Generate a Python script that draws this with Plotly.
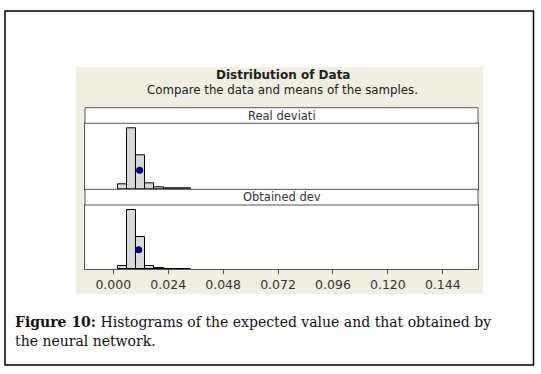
import plotly.graph_objects as go

# Data
bin_centers = [0.004, 0.008, 0.012, 0.016, 0.020, 0.024, 0.028, 0.032]
bin_width = 0.004
real_counts = [7, 100, 55, 10, 3, 1, 1, 1]
obtained_counts = [5, 100, 55, 6, 2, 1, 1, 1]
real_mean = 0.0115
obtained_mean = 0.0111
real_mean_y = 31
obtained_mean_y = 33
tick_vals = [0.000, 0.024, 0.048, 0.072, 0.096, 0.120, 0.144]
tick_text = ["0.000", "0.024", "0.048", "0.072", "0.096", "0.120", "0.144"]
panel_labels = ["Real deviati", "Obtained dev"]
title = "Distribution of Data"
subtitle = "Compare the data and means of the samples."
caption1 = "<b>Figure 10:</b> Histograms of the expected value and that obtained by"
caption2 = "the neural network."

W, H = 541, 374
def px(x): return x / W
def py(y): return 1 - y / H

fig = go.Figure()

x_dom = [px(85), px(478)]
y1_dom = [py(189), py(123.3)]
y2_dom = [py(269.3), py(205)]

bar_style = dict(marker=dict(color="#D9D9D9", line=dict(color="black", width=1)), width=bin_width, showlegend=False)
fig.add_trace(go.Bar(x=bin_centers, y=real_counts, xaxis="x", yaxis="y", **bar_style))
fig.add_trace(go.Bar(x=bin_centers, y=obtained_counts, xaxis="x2", yaxis="y2", **bar_style))
fig.add_trace(go.Scatter(x=[real_mean], y=[real_mean_y], mode="markers", xaxis="x", yaxis="y",
                         marker=dict(color="#000080", size=7), showlegend=False))
fig.add_trace(go.Scatter(x=[obtained_mean], y=[obtained_mean_y], mode="markers", xaxis="x2", yaxis="y2",
                         marker=dict(color="#000080", size=7), showlegend=False))

xr = [-0.01237, 0.1594]
frame = "#555555"
common_x = dict(range=xr, domain=x_dom, showline=True, linecolor=frame, linewidth=1, mirror=True,
                showgrid=False, zeroline=False, fixedrange=True)
common_y = dict(range=[0, 108], showline=True, linecolor=frame, linewidth=1, mirror=True,
                showgrid=False, zeroline=False, showticklabels=False, ticks="")

fig.update_layout(
    width=W, height=H, margin=dict(l=0, r=0, t=0, b=0),
    paper_bgcolor="white", plot_bgcolor="white", bargap=0,
    xaxis=dict(**common_x, anchor="y", showticklabels=False, ticks=""),
    yaxis=dict(**common_y, domain=y1_dom, anchor="x"),
    xaxis2=dict(**common_x, anchor="y2", tickvals=tick_vals, ticktext=tick_text, ticks="outside",
                ticklen=4, tickcolor=frame, tickfont=dict(family="DejaVu Sans", size=12.5, color="#333333")),
    yaxis2=dict(**common_y, domain=y2_dom, anchor="x2"),
)

shapes = [
    # outer border
    dict(type="rect", xref="paper", yref="paper", x0=px(5), x1=px(533.5), y0=py(365), y1=py(11),
         line=dict(color="black", width=1.5), fillcolor="rgba(0,0,0,0)", layer="below"),
    # beige background
    dict(type="rect", xref="paper", yref="paper", x0=px(76), x1=px(483), y0=py(294), y1=py(67),
         line=dict(width=0), fillcolor="#EFEEE1", layer="below"),
    # plot area white fills
    dict(type="rect", xref="paper", yref="paper", x0=x_dom[0], x1=x_dom[1], y0=y1_dom[0], y1=py(107.7),
         line=dict(width=0), fillcolor="white", layer="below"),
    dict(type="rect", xref="paper", yref="paper", x0=x_dom[0], x1=x_dom[1], y0=y2_dom[0], y1=py(189.3),
         line=dict(width=0), fillcolor="white", layer="below"),
    # strips
    dict(type="rect", xref="paper", yref="paper", x0=x_dom[0], x1=x_dom[1], y0=py(123.3), y1=py(107.7),
         line=dict(color=frame, width=1), fillcolor="white"),
    dict(type="rect", xref="paper", yref="paper", x0=x_dom[0], x1=x_dom[1], y0=py(205), y1=py(189.3),
         line=dict(color=frame, width=1), fillcolor="white"),
]
fig.update_layout(shapes=shapes)

ann = [
    dict(text="<b>" + title + "</b>", x=px(283), y=py(75), font=dict(family="DejaVu Sans", size=12, color="#222222")),
    dict(text=subtitle, x=px(282), y=py(90), font=dict(family="DejaVu Sans", size=11.8, color="#222222")),
    dict(text=panel_labels[0], x=px(281.5), y=py(115.5), font=dict(family="DejaVu Sans", size=11.5, color="#333333")),
    dict(text=panel_labels[1], x=px(281.5), y=py(197.2), font=dict(family="DejaVu Sans", size=11.5, color="#333333")),
]
for a in ann:
    a.update(xref="paper", yref="paper", showarrow=False, xanchor="center", yanchor="middle")
cap_font = dict(family="DejaVu Serif", size=14, color="#111111")
ann.append(dict(text=caption1, x=px(12.5), y=py(322), xref="paper", yref="paper", showarrow=False,
                xanchor="left", yanchor="middle", font=cap_font))
ann.append(dict(text=caption2, x=px(12.5), y=py(341), xref="paper", yref="paper", showarrow=False,
                xanchor="left", yanchor="middle", font=cap_font))
fig.update_layout(annotations=ann)

fig.write_html("out.html", config={"displayModeBar": False},
               post_script="document.body.style.margin='0';")
